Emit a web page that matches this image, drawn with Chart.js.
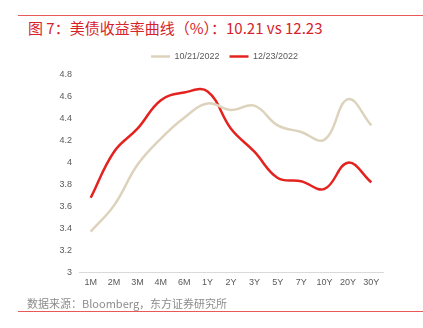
<!DOCTYPE html>
<html>
<head>
<meta charset="utf-8">
<script src="https://cdn.jsdelivr.net/npm/chart.js@4/dist/chart.umd.min.js"></script>
<style>
  html, body { margin: 0; padding: 0; background: #fff; }
  #wrap { position: relative; width: 423px; height: 328px; overflow: hidden; }
  .rule { position: absolute; left: 18px; right: 0; height: 1px; background: #e8595a; }
  #title {
    position: absolute; left: 28px; top: 17px;
    font: 15px "Noto Sans CJK SC", "Liberation Sans", sans-serif;
    color: #d7222a; white-space: nowrap;
  }
  #source {
    position: absolute; left: 27px; top: 295px;
    font: 11px "Noto Sans CJK SC", "Liberation Sans", sans-serif;
    color: #8c8c8c; white-space: nowrap;
  }
  canvas { position: absolute; left: 0; top: 0; }
</style>
</head>
<body>
<div id="wrap">
  <div class="rule" style="top:15px"></div>
  <div id="title">图 7：美债收益率曲线（%）：10.21 vs 12.23</div>
  <canvas id="chart" width="423" height="328"></canvas>
  <div id="source">数据来源：Bloomberg，东方证券研究所</div>
  <div class="rule" style="top:311px"></div>
</div>
<script>
// tenors along the curve
const tenors = ['1M', '2M', '3M', '4M', '6M', '1Y', '2Y', '3Y', '5Y', '7Y', '10Y', '20Y', '30Y'];

// yields, %
const yieldsOct21 = [3.37, 3.61, 3.98, 4.22, 4.41, 4.54, 4.48, 4.52, 4.34, 4.28, 4.21, 4.58, 4.34];
const yieldsDec23 = [3.68, 4.10, 4.31, 4.57, 4.64, 4.65, 4.31, 4.10, 3.86, 3.83, 3.76, 4.00, 3.82];

const seriesLabels = ['10/21/2022', '12/23/2022'];

const tickFont = { family: '"Liberation Sans", sans-serif', size: 9 };

// centre the legend over the plot area and lift it a little
const legendShift = {
    id: 'legendShift',
    afterLayout: (chart) => {
        chart.legend.left += 66;
        chart.legend.top -= 4;
    }
};

new Chart(document.getElementById('chart'), {
    type: 'line',
    data: {
        labels: tenors,
        datasets: [{
            label: seriesLabels[0],
            data: yieldsOct21,
            borderColor: '#ddd3bd',
            backgroundColor: '#ddd3bd',
            borderWidth: 2.5,
            pointRadius: 0,
            tension: 0.4
        }, {
            label: seriesLabels[1],
            data: yieldsDec23,
            borderColor: '#e3231f',
            backgroundColor: '#e3231f',
            borderWidth: 2.5,
            pointRadius: 0,
            tension: 0.4
        }]
    },
    options: {
        responsive: false,
        animation: false,
        layout: {
            padding: { top: 46, right: 40, bottom: 35, left: 0 }
        },
        plugins: {
            legend: {
                display: true,
                labels: {
                    usePointStyle: true,
                    pointStyle: 'line',
                    pointStyleWidth: 19,
                    padding: 10,
                    color: '#595959',
                    font: tickFont
                }
            },
            tooltip: { enabled: false }
        },
        scales: {
            x: {
                offset: true,
                grid: { display: false, drawTicks: false },
                border: { color: '#d9d9d9', width: 1 },
                ticks: { color: '#595959', font: tickFont, maxRotation: 0, padding: 5 }
            },
            y: {
                min: 3,
                max: 4.8,
                grid: { display: false, drawTicks: false },
                border: { display: false },
                afterFit: (scale) => { scale.width = 79; },
                ticks: {
                    stepSize: 0.2,
                    color: '#595959',
                    font: tickFont,
                    padding: 7,
                    callback: (v) => String(+v.toFixed(1))
                }
            }
        }
    },
    plugins: [legendShift]
});
</script>
</body>
</html>
